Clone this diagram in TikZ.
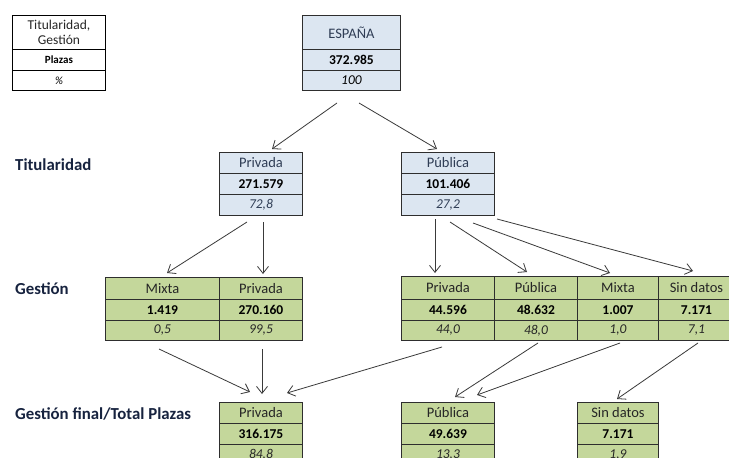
\documentclass[tikz,border=0pt]{standalone}
\usepackage{fontspec}
\setmainfont{Carlito}
\usetikzlibrary{arrows.meta}
\definecolor{bluefill}{HTML}{DCE6F1}
\definecolor{greenfill}{HTML}{C4D79B}
\definecolor{bordercol}{HTML}{2E2E2E}
\definecolor{bluetxt}{HTML}{2F3D55}
\definecolor{graytxt}{HTML}{262626}
\definecolor{labeltxt}{HTML}{17233F}
\definecolor{arrowcol}{HTML}{3A3A3A}
\tikzset{
  cell/.style={draw=bordercol, line width=0.9pt, anchor=north west, inner sep=0pt, align=center},
  bluecell/.style={cell, fill=bluefill},
  greencell/.style={cell, fill=greenfill},
  legcell/.style={cell, draw=black, fill=white},
  headtxt/.style={font=\fontsize{14.5}{15}\selectfont},
  numtxt/.style={font=\fontsize{13.5}{15}\selectfont\bfseries, text=black},
  pcttxt/.style={font=\fontsize{13.5}{15}\selectfont\itshape},
  rowlabel/.style={anchor=west, inner sep=0pt, text=labeltxt, font=\fontsize{16.8}{18}\selectfont\bfseries},
  conn/.style={draw=arrowcol, line width=0.8pt, -{Straight Barb[length=7pt,width=11pt]}}
}
\begin{document}
\begin{tikzpicture}[x=1pt,y=-1pt]
\useasboundingbox (0,0) rectangle (729,458);
\clip (0,0) rectangle (729,458);
\fill[white] (0,0) rectangle (729,458);

% legend
\node[legcell, minimum width=93pt, minimum height=34pt, text=graytxt, font=\fontsize{13.5}{14.5}\selectfont] (leg1) at (12,15) {Titularidad,\\Gestión};
\node[legcell, minimum width=93pt, minimum height=21pt, font=\fontsize{11}{12}\selectfont\bfseries] (leg2) at (12,49) {Plazas};
\node[legcell, minimum width=93pt, minimum height=20pt, font=\fontsize{11}{12}\selectfont\itshape] (leg3) at (12,70) {\%};

% España
\node[bluecell, headtxt, text=bluetxt, minimum width=98pt, minimum height=34pt] (esp1) at (302,15) {ESPAÑA};
\node[bluecell, numtxt, minimum width=98pt, minimum height=21pt] (esp2) at (302,49) {372.985};
\node[bluecell, pcttxt, text=black, minimum width=98pt, minimum height=20pt] (esp3) at (302,70) {100};

% Titularidad
\node[bluecell, headtxt, text=bluetxt, minimum width=83pt, minimum height=21pt] (tp1) at (219,152) {Privada};
\node[bluecell, numtxt, minimum width=83pt, minimum height=21pt] (tp2) at (219,173) {271.579};
\node[bluecell, pcttxt, text=bluetxt, minimum width=83pt, minimum height=21pt] (tp3) at (219,194) {72,8};

\node[bluecell, headtxt, text=bluetxt, minimum width=93pt, minimum height=21pt] (tu1) at (401,152) {Pública};
\node[bluecell, numtxt, minimum width=93pt, minimum height=21pt] (tu2) at (401,173) {101.406};
\node[bluecell, pcttxt, text=bluetxt, minimum width=93pt, minimum height=21pt] (tu3) at (401,194) {27,2};

% Gestión left
\node[greencell, headtxt, text=graytxt, minimum width=114pt, minimum height=22pt] (gm1) at (105,277) {Mixta};
\node[greencell, numtxt, minimum width=114pt, minimum height=21pt] (gm2) at (105,299) {1.419};
\node[greencell, pcttxt, text=graytxt, minimum width=114pt, minimum height=20pt] (gm3) at (105,320) {0,5};
\node[greencell, headtxt, text=graytxt, minimum width=83pt, minimum height=22pt] (gp1) at (219,277) {Privada};
\node[greencell, numtxt, minimum width=83pt, minimum height=21pt] (gp2) at (219,299) {270.160};
\node[greencell, pcttxt, text=graytxt, minimum width=83pt, minimum height=20pt] (gp3) at (219,320) {99,5};

% Gestión right
\node[greencell, headtxt, text=graytxt, minimum width=93pt, minimum height=23pt] (rp1) at (401,276) {Privada};
\node[greencell, numtxt, minimum width=93pt, minimum height=21pt] (rp2) at (401,299) {44.596};
\node[greencell, pcttxt, text=graytxt, minimum width=93pt, minimum height=20pt] (rp3) at (401,320) {44,0};
\node[greencell, headtxt, text=graytxt, minimum width=83pt, minimum height=23pt] (ru1) at (494,276) {Pública};
\node[greencell, numtxt, minimum width=83pt, minimum height=21pt] (ru2) at (494,299) {48.632};
\node[greencell, pcttxt, text=graytxt, minimum width=83pt, minimum height=20pt] (ru3) at (494,320) {48,0};
\node[greencell, headtxt, text=graytxt, minimum width=81pt, minimum height=23pt] (rm1) at (577,276) {Mixta};
\node[greencell, numtxt, minimum width=81pt, minimum height=21pt] (rm2) at (577,299) {1.007};
\node[greencell, pcttxt, text=graytxt, minimum width=81pt, minimum height=20pt] (rm3) at (577,320) {1,0};
\node[greencell, headtxt, text=graytxt, minimum width=76pt, minimum height=23pt] (rs1) at (658,276) {Sin datos};
\node[greencell, numtxt, minimum width=76pt, minimum height=21pt] (rs2) at (658,299) {7.171};
\node[greencell, pcttxt, text=graytxt, minimum width=76pt, minimum height=20pt] (rs3) at (658,320) {7,1};

% Gestión final
\node[greencell, headtxt, text=graytxt, minimum width=83pt, minimum height=21pt] (fp1) at (219,402) {Privada};
\node[greencell, numtxt, minimum width=83pt, minimum height=21pt] (fp2) at (219,423) {316.175};
\node[greencell, pcttxt, text=graytxt, minimum width=83pt, minimum height=21pt] (fp3) at (219,444) {84,8};
\node[greencell, headtxt, text=graytxt, minimum width=93pt, minimum height=21pt] (fu1) at (401,402) {Pública};
\node[greencell, numtxt, minimum width=93pt, minimum height=21pt] (fu2) at (401,423) {49.639};
\node[greencell, pcttxt, text=graytxt, minimum width=93pt, minimum height=21pt] (fu3) at (401,444) {13,3};
\node[greencell, headtxt, text=graytxt, minimum width=81pt, minimum height=21pt] (fs1) at (577,402) {Sin datos};
\node[greencell, numtxt, minimum width=81pt, minimum height=21pt] (fs2) at (577,423) {7.171};
\node[greencell, pcttxt, text=graytxt, minimum width=81pt, minimum height=21pt] (fs3) at (577,444) {1,9};

% row labels
\node[rowlabel] (lt) at (15,165) {Titularidad};
\node[rowlabel] (lg) at (15,289) {Gestión};
\node[rowlabel] (lf) at (15,414) {Gestión final/Total Plazas};

% connector end points
\coordinate (a1s) at (337,103); \coordinate (a1e) at (272,149);
\coordinate (a2s) at (359,103); \coordinate (a2e) at (437,149);
\coordinate (a3s) at (247,222); \coordinate (a3e) at (167,273);
\coordinate (a4s) at (263,222); \coordinate (a4e) at (263,274);
\coordinate (a5s) at (435,219); \coordinate (a5e) at (435,273);
\coordinate (a6s) at (450,222); \coordinate (a6e) at (527,272);
\coordinate (a7s) at (473,223); \coordinate (a7e) at (610,273);
\coordinate (a8s) at (497,219); \coordinate (a8e) at (693,271);
\coordinate (a9s) at (159,349); \coordinate (a9e) at (250,392);
\coordinate (a10s) at (262,349); \coordinate (a10e) at (262,394);
\coordinate (a11s) at (442,347); \coordinate (a11e) at (287,393);
\coordinate (a12s) at (538,343); \coordinate (a12e) at (455,397);
\coordinate (a13s) at (620,343); \coordinate (a13e) at (477,395);
\coordinate (a14s) at (698,343); \coordinate (a14e) at (617,399);

\foreach \i in {1,...,14} {\draw[conn] (a\i s) -- (a\i e);}
\end{tikzpicture}
\end{document}
